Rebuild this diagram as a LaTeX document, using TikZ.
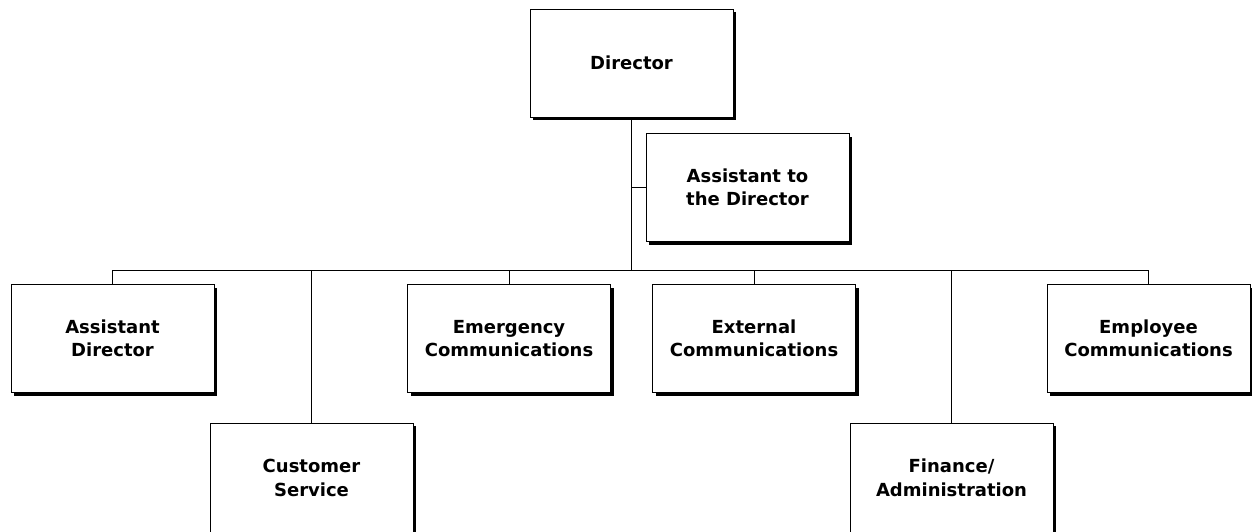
\documentclass[tikz,border=0pt]{standalone}
\usepackage{fontspec}
\setmainfont{DejaVu Sans}
\usetikzlibrary{shadows}
\begin{document}
\begin{tikzpicture}[x=1pt,y=-1pt,
  unit/.style={draw=black,line width=0.8pt,fill=white,rectangle,
    minimum width=203pt,minimum height=108pt,inner sep=0pt,align=center,
    font=\fontsize{18}{23.5}\selectfont\bfseries,
    drop shadow={shadow xshift=3pt,shadow yshift=-3pt,fill=black,opacity=1}},
  lowunit/.style={unit,minimum height=110pt},
  link/.style={draw=black,line width=0.8pt}]
\useasboundingbox (0,0) rectangle (1252,531);
\clip (0,0) rectangle (1252,531);
\fill[white] (0,0) rectangle (1252,531);
% boxes
\node[unit] (dir) at (631.5,63) {Director};
\node[unit] (atd) at (747.5,187.5) {Assistant to\\the Director};
\node[unit] (ad)  at (112.5,338.5) {Assistant\\Director};
\node[unit] (emc) at (509,338.5) {Emergency\\Communications};
\node[unit] (exc) at (754,338.5) {External\\Communications};
\node[unit] (epc) at (1148.5,338.5) {Employee\\Communications};
\node[lowunit] (cs) at (311.5,478) {Customer\\Service};
\node[lowunit] (fa) at (951.5,478) {Finance/\\Administration};
% connectors
\coordinate (busL) at (112.5,270);
\coordinate (busR) at (1148.5,270);
\path[link] (busL) -- (busR);
\path[link] (dir.south) -- (dir.south |- busL);
\path[link] (atd.west) -- (atd.west -| dir.south);
\path[link] (ad.north) -- (ad.north |- busL);
\path[link] (emc.north) -- (emc.north |- busL);
\path[link] (exc.north) -- (exc.north |- busL);
\path[link] (epc.north) -- (epc.north |- busL);
\path[link] (cs.north) -- (cs.north |- busL);
\path[link] (fa.north) -- (fa.north |- busL);
\end{tikzpicture}
\end{document}
